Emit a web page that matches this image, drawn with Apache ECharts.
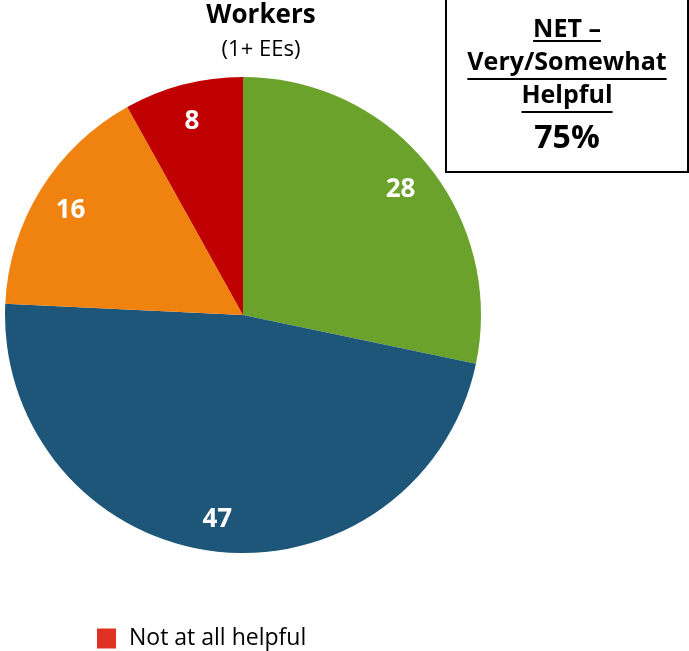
<!DOCTYPE html>
<html><head><meta charset="utf-8">
<script src="https://cdn.jsdelivr.net/npm/echarts@6/dist/echarts.min.js"></script>
<style>html,body{margin:0;padding:0;background:#fff}#c{width:689px;height:651px}</style>
</head><body><div id="c"></div>
<script>
const categories = ['Very helpful', 'Somewhat helpful', 'Not very helpful', 'Not at all helpful'];
const values = [28, 47, 16, 8];
const colors = ['#6BA22B', '#1D5679', '#F0820F', '#C00000'];
const legendItems = ['Not at all helpful'];
const legendColor = '#E03222';
const titleText = 'Workers';
const subtitleText = '(1+ EEs)';
const netLines = ['NET –', 'Very/Somewhat', 'Helpful'];
const netValue = '75%';
const FONT = '"Open Sans", Lato, sans-serif';

const chart = echarts.init(document.getElementById('c'));
const data = categories.map((n, i) => ({ name: n, value: values[i], itemStyle: { color: colors[i] } }));
const center = [243, 315];
const R = 238;

const boxX = 446, boxW = 242, cx = boxX + boxW / 2;
const boxFont = 'bold 25px ' + FONT;
const lineY = [30, 63, 96];
const graphics = [
  { type: 'text', x: 261, y: 16, style: { text: titleText, font: 'bold 26px ' + FONT, fill: '#000', textAlign: 'center', textVerticalAlign: 'middle' } },
  { type: 'text', x: 261, y: 50, style: { text: subtitleText, font: '22px ' + FONT, fill: '#000', textAlign: 'center', textVerticalAlign: 'middle' } },
  { type: 'rect', shape: { x: boxX, y: -2, width: boxW, height: 174 }, style: { fill: '#fff', stroke: '#000', lineWidth: 2 } },
  { type: 'text', x: cx, y: 139, style: { text: netValue, font: 'bold 32px ' + FONT, fill: '#000', textAlign: 'center', textVerticalAlign: 'middle' } }
];
const ctx = document.createElement('canvas').getContext('2d');
ctx.font = boxFont;
const ulY = [41, 79, 112];
netLines.forEach((t, i) => {
  graphics.push({ type: 'text', x: cx, y: lineY[i], style: { text: t, font: boxFont, fill: '#000', textAlign: 'center', textVerticalAlign: 'middle' } });
  const w = ctx.measureText(t).width;
  graphics.push({ type: 'line', shape: { x1: cx - w / 2, y1: ulY[i], x2: cx + w / 2, y2: ulY[i] }, style: { stroke: '#000', lineWidth: 2 } });
});

chart.setOption({
  animation: false,
  legend: {
    left: 92, top: 622, itemWidth: 19, itemHeight: 20, itemGap: 20, icon: 'rect',
    data: legendItems.map(n => ({ name: n, itemStyle: { color: legendColor } })),
    textStyle: { fontFamily: FONT, fontSize: 23, color: '#000', padding: [0, 0, 0, 8] },
    selectedMode: false
  },
  graphic: graphics,
  series: [
    {
      type: 'pie', center: center, radius: [0, R], startAngle: 90, clockwise: true,
      data: data, label: { show: false }, labelLine: { show: false }, silent: true,
      itemStyle: { borderWidth: 0 }
    },
    {
      type: 'pie', center: center, radius: [R * 0.68, R], startAngle: 90, clockwise: true,
      data: categories.map((n, i) => ({ name: n + ' ', value: values[i] })),
      itemStyle: { color: 'rgba(0,0,0,0)' }, silent: true, legendHoverLink: false,
      label: { show: true, position: 'inside', formatter: '{c}', color: '#fff', fontFamily: FONT, fontWeight: 'bold', fontSize: 26 },
      labelLayout: { dy: 3 },
      labelLine: { show: false }
    }
  ]
});
</script></body></html>
